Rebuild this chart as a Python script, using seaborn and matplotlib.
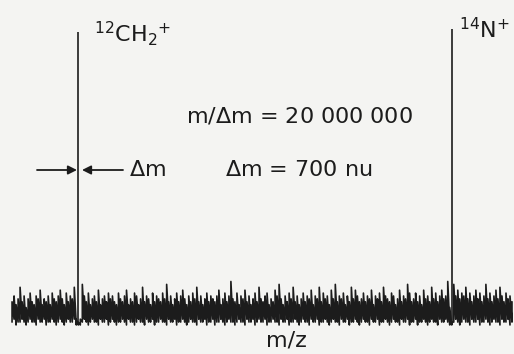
import matplotlib
matplotlib.use('Agg')
import matplotlib.pyplot as plt
import seaborn as sns
import numpy as np

# noise envelope per channel (relative intensity): top and bottom of each stroke
noise_high = [
    7, 9, 6, 8, 12, 7, 9, 5, 8, 10, 7, 6, 9, 8, 11, 6, 8, 7, 9, 6, 10, 8, 7, 9, 11,
    8, 6, 10, 7, 9, 8, 12, 1, 0, 1, 13, 9, 7, 10, 6, 8, 9, 7, 11, 6, 8, 9, 7, 10, 8,
    9, 7, 6, 10, 8, 7, 9, 11, 6, 8, 7, 10, 9, 6, 8, 12, 7, 9, 8, 6, 10, 7, 9, 8, 7,
    10, 8, 13, 7, 9, 6, 8, 10, 7, 9, 11, 8, 6, 9, 7, 10, 8, 12, 7, 9, 6, 8, 10, 7, 9,
    8, 7, 9, 11, 6, 8, 10, 7, 9, 14, 8, 7, 10, 6, 9, 8, 11, 7, 9, 6, 8, 10, 7, 12, 8,
    7, 9, 10, 6, 8, 7, 11, 9, 13, 8, 6, 9, 7, 10, 8, 12, 7, 9, 6, 8, 10, 7, 9, 8, 11,
    6, 9, 8, 12, 7, 10, 8, 9, 6, 11, 8, 13, 7, 9, 8, 10, 6, 9, 7, 12, 8, 11, 9, 7, 8,
    10, 7, 9, 8, 11, 6, 9, 8, 10, 7, 12, 9, 8, 7, 10, 9, 6, 8, 11, 7, 9, 8, 13, 10, 7,
    8, 10, 7, 9, 6, 11, 8, 9, 7, 12, 8, 10, 7, 9, 11, 8, 9, 14, 5, 0, 13, 9, 11, 8, 10,
    9, 12, 8, 10, 7, 9, 11, 8, 10, 7, 9, 13, 8, 10, 7, 9, 11, 8, 12, 9, 7, 10, 8, 9, 7,
]
noise_low = [
    0, 1, -1, 0, 0, 1, 0, -1, 0, 1, 0, 0, -1, 1, 0, 0, 1, -1, 0, 0, 1, 0, -1, 0, 1,
    0, -1, 0, 1, 0, 0, 1, -1, -1, -1, 0, 1, 0, -1, 0, 1, 0, 0, -1, 1, 0, 0, 1, -1, 0,
    1, 0, -1, 0, 0, 1, 0, -1, 1, 0, 0, -1, 0, 1, 0, 0, -1, 1, 0, 0, 1, -1, 0, 0, 1,
    0, 0, -1, 1, 0, 0, 1, -1, 0, 0, 1, 0, -1, 0, 1, 0, 0, -1, 1, 0, 0, 1, -1, 0, 0,
    1, -1, 0, 0, 1, 0, -1, 0, 1, 0, 0, -1, 0, 1, 0, 0, -1, 1, 0, 0, 1, -1, 0, 1, 0,
    0, 1, -1, 0, 0, 1, 0, 0, -1, 1, 0, 0, 1, -1, 0, 0, 1, 0, -1, 0, 1, 0, 0, -1, 1,
    0, 0, 1, -1, 0, 0, 1, 0, -1, 0, 1, 0, 0, -1, 1, 0, 0, 1, -1, 0, 0, 1, 0, -1, 0,
    1, 0, 0, -1, 1, 0, 0, 1, -1, 0, 0, 1, 0, -1, 0, 1, 0, 0, -1, 1, 0, 0, 1, -1, 0,
    0, 1, -1, 0, 0, 1, 0, -1, 0, 1, 0, 0, -1, 1, 0, 0, 1, 0, -1, -1, 0, 1, 0, -1, 0,
    1, 0, 0, -1, 1, 0, 0, 1, -1, 0, 0, 1, 0, -1, 0, 1, 0, 0, -1, 1, 0, 0, 1, -1, 0,
]
channels = np.arange(len(noise_high))

# the two resolved peaks
peak_names = [r'$^{12}$CH$_2$$^{+}$', r'$^{14}$N$^{+}$']
peak_channel = [33, 219]
peak_height = [100, 101]

resolution_text = r'm/$\Delta$m = 20 000 000'
width_text = r'$\Delta$m = 700 nu'

ink = '#1c1c1c'
paper = '#f4f4f2'

sns.set_theme(style='white')
plt.rcParams['font.family'] = ['DejaVu Sans']

fig = plt.figure(figsize=(5.14, 3.54), dpi=100, facecolor=paper)
ax = fig.add_axes([0, 0, 1, 1])
ax.set_facecolor(paper)

# trace each channel bottom -> top, as a dense recorder trace
trace_x = np.repeat(channels, 2)
trace_y = np.column_stack([noise_low, noise_high]).ravel()
sns.lineplot(x=trace_x, y=trace_y, estimator=None, sort=False,
             color=ink, lw=1.2, ax=ax)
ax.vlines(peak_channel, -1, peak_height, color=ink, lw=1.2)

ax.set_xlim(-6, 250)
ax.set_ylim(-11, 111)
ax.axis('off')

# labels
fs = 16
fig.text(94 / 514, 1 - 42 / 354, peak_names[0], fontsize=fs, color=ink,
         ha='left', va='baseline')
fig.text(459 / 514, 1 - 38 / 354, peak_names[1], fontsize=fs, color=ink,
         ha='left', va='baseline')
fig.text(299 / 514, 1 - 122 / 354, resolution_text, fontsize=fs, color=ink,
         ha='center', va='baseline')
fig.text(299 / 514, 1 - 176 / 354, width_text, fontsize=fs, color=ink,
         ha='center', va='baseline')
fig.text(129 / 514, 1 - 176 / 354, r'$\Delta$m', fontsize=fs, color=ink,
         ha='left', va='baseline')
fig.text(286 / 514, 1 - 347 / 354, 'm/z', fontsize=fs, color=ink,
         ha='center', va='baseline')

# width arrows
arrow = dict(arrowstyle='-|>', color=ink, lw=1.3, mutation_scale=13,
             shrinkA=0, shrinkB=0)
ay = 1 - 170 / 354
ax.annotate('', xy=(77 / 514, ay), xytext=(37 / 514, ay),
            xycoords='figure fraction', textcoords='figure fraction',
            arrowprops=arrow)
ax.annotate('', xy=(82 / 514, ay), xytext=(123 / 514, ay),
            xycoords='figure fraction', textcoords='figure fraction',
            arrowprops=arrow)

fig.savefig('out.png', dpi=100, facecolor=paper)
